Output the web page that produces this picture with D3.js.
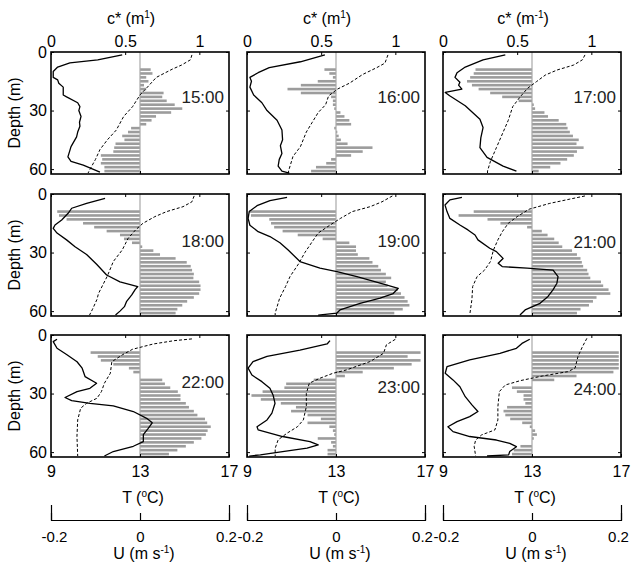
<!DOCTYPE html>
<html><head><meta charset="utf-8">
<script src="https://cdn.jsdelivr.net/npm/d3@7"></script>
<style>
body{margin:0;background:#fff}
svg{display:block;font-family:"Liberation Sans",Arial,Helvetica,sans-serif}
</style>
</head><body>
<svg id="chart" width="632" height="562"></svg>
<script>
// ---------- data ----------
const times = ["15:00","16:00","17:00","18:00","19:00","21:00","22:00","23:00","24:00"];
const depthTicks = [0, 30, 60];
const cTicks = [0, 0.5, 1];
const tTicks = [9, 13, 17];
const uTicks = [-0.2, 0, 0.2];
const depthBins = [1,3,5,7,9,11,13,15,17,19,21,23,25,27,29,31,33,35,37,39,41,43,45,47,49,51,53,55,57,59,61];

// temperature profiles [depth m, T degC]
const temp1500 = [[1.5,12.2],[4,11.1],[5.6,9.85],[7.7,9.3],[10,9.1],[13,9.1],[14.3,9.3],[16,9.35],[18,9.55],[22,9.55],[23,9.7],[26,10.2],[28,10.3],[30,10.25],[33,10.35],[36,10.28],[38,10.3],[41,10.2],[43.5,10.15],[48.5,9.9],[53.7,9.76],[56,9.9],[58,10.45],[61.5,11.2]];
const temp1600 = [[1.5,12.5],[5,11.4],[8,10.0],[10.6,9.5],[13,9.13],[15,9.2],[18,9.13],[22,9.3],[26,9.67],[30,9.9],[35,10.35],[40,10.57],[45,10.6],[48,10.5],[52,10.57],[55,10.45],[58.5,10.4],[61,10.57],[62,10.9]];
const temp1700 = [[1.5,11.8],[4,10.8],[7.7,10.0],[10.6,9.63],[13,9.54],[15.5,9.76],[17,9.7],[19,9.85],[20.7,9.1],[22.4,9.3],[27.5,10.0],[34.5,10.66],[38.7,10.8],[44,10.7],[49,10.66],[54,10.98],[58.5,11.7],[61,12.3]];
const temp1800 = [[2.2,11.43],[4.8,10.6],[7.3,9.93],[9.9,9.77],[13.3,9.48],[15.9,9.18],[17.6,9.1],[20,9.27],[23.5,9.7],[27,10.08],[31,10.6],[36,11.05],[41.5,11.5],[45,12.1],[47.4,12.9],[49,12.78],[51.7,12.63],[55,12.4],[57.7,12.3],[60,12.1],[62,11.9]];
const temp1900 = [[1.7,10.8],[3.4,10.03],[6,9.45],[9,9.1],[12.5,9.05],[16,9.13],[19.3,9.5],[21.8,10.03],[25,10.48],[28.7,10.85],[34.6,11.38],[38,12.28],[39.8,13.04],[42.3,13.94],[45.7,14.98],[48.3,15.8],[51,15.57],[53.4,14.98],[56,14.08],[59.4,13.18],[61,13.04],[62,12.2]];
const temp2100 = [[1.7,9.85],[3,9.31],[5.6,9.09],[9,9.18],[12.5,9.31],[15.9,9.76],[18.4,10.12],[21,10.44],[23.5,10.57],[27.8,11.1],[29.5,11.4],[33,11.7],[35.5,11.48],[37.2,11.66],[38,12.78],[39,13.95],[42.3,14.17],[45.7,14.12],[49,13.95],[52.5,13.72],[56,13.36],[59.4,12.69],[62,12.46]];
const temp2200 = [[2.2,9.27],[3.4,9.1],[6.8,9.27],[10,9.7],[13.7,10.17],[17,10.4],[21.3,10.53],[24.7,11.05],[27.3,10.75],[29,10.17],[32,9.63],[33.6,9.93],[35,10.75],[36.3,11.8],[39.2,12.7],[42.7,13.3],[45,13.55],[47.8,13.37],[51,13.15],[54.6,13.15],[57,12.7],[59.7,11.8],[62,11.4]];
const temp2300 = [[2.9,12.73],[4.6,12.6],[7.7,11.38],[11,9.9],[13.6,9.27],[17,9.05],[20.5,9.22],[23.9,9.67],[27.3,10.03],[30.7,10.17],[35,10.26],[40,10.12],[43.5,9.9],[47,9.45],[48.6,9.5],[52,10.6],[54.6,11.83],[56.3,12.2],[58,11.7],[59.7,10.6],[61.4,9.6],[62,9.1]];
const temp2400 = [[2.2,12.9],[4.3,12.55],[6.8,12.3],[9.4,11.56],[12.8,10.2],[16.2,9.18],[19.6,9.1],[23,9.45],[26.5,9.76],[31.6,10.0],[35.8,10.3],[39.2,10.57],[41.8,10.2],[44.4,9.63],[47,9.22],[49.5,9.45],[52,10.2],[53.8,11.4],[55.5,12.0],[57.2,12.3],[59.7,12.0],[61.4,11.95],[62,10.98]];

// c* profiles [depth m, c* 1/m]
const c1500 = [[1.5,0.95],[4,0.94],[6.7,0.88],[8.7,0.82],[13,0.71],[18,0.65],[22,0.60],[28,0.55],[33,0.49],[40,0.44],[45,0.38],[50,0.33],[55,0.30],[60.5,0.26],[62,0.25]];
const c1600 = [[1.5,0.95],[5.7,0.93],[8,0.875],[11.5,0.78],[16,0.69],[19,0.61],[22.5,0.55],[27,0.53],[31,0.48],[36,0.44],[41,0.40],[48.5,0.36],[53.5,0.31],[61,0.28],[62,0.28]];
const c1700 = [[1.5,0.957],[4,0.94],[6.7,0.88],[9.2,0.77],[11.8,0.69],[15.2,0.63],[18.6,0.57],[23,0.52],[28,0.47],[35,0.44],[42,0.40],[49,0.36],[56,0.32],[61,0.30],[62,0.30]];
const c1800 = [[1,0.965],[4,0.95],[6.5,0.89],[9,0.78],[11.6,0.70],[15,0.62],[18.4,0.57],[22.7,0.52],[28.7,0.48],[34.6,0.42],[42,0.38],[51,0.32],[54,0.31],[59,0.28],[62,0.26]];
const c1900 = [[1,0.98],[4,0.91],[6.5,0.83],[9,0.71],[12.5,0.63],[15.9,0.56],[20,0.48],[24.4,0.44],[30,0.39],[35.5,0.35],[42.3,0.29],[47.4,0.26],[53.4,0.22],[61,0.19],[62,0.19]];
const c2100 = [[1,0.957],[2.7,0.85],[4.8,0.72],[7.8,0.58],[11.6,0.50],[15,0.44],[19.3,0.40],[23.5,0.37],[28.7,0.34],[34.6,0.32],[39,0.28],[42.3,0.23],[47.4,0.20],[54,0.195],[62,0.18]];
const c2200 = [[2,0.95],[2.9,0.83],[4.6,0.69],[7.3,0.55],[10.2,0.48],[13.7,0.41],[19.6,0.40],[24.7,0.36],[29,0.34],[32.4,0.31],[35,0.24],[37.5,0.20],[43.5,0.18],[52,0.175],[62,0.18]];
const c2300 = [[2.2,1.0],[5,0.94],[9.4,0.92],[13.6,0.83],[17.9,0.67],[19.6,0.58],[22.2,0.49],[24.7,0.42],[30,0.40],[36.7,0.40],[43.5,0.38],[47,0.34],[50.3,0.27],[53.7,0.21],[58,0.19],[62,0.19]];
const c2400 = [[1.7,0.97],[6,0.94],[11,0.91],[17,0.89],[18.8,0.84],[21,0.67],[23.4,0.52],[25.6,0.42],[29,0.38],[36.7,0.37],[43.5,0.37],[48.6,0.35],[51.2,0.26],[53.8,0.22],[57,0.21],[62,0.22]];

// velocity U (m/s) per depth bin
const u1500 = [0,0,0,0,0.024,0.028,0.014,0.019,0.009,0.014,0.053,0.05,0.06,0.078,0.095,0.07,0.036,0.026,0.014,-0.02,-0.027,-0.04,-0.035,-0.055,-0.058,-0.06,-0.088,-0.085,-0.088,-0.08,-0.08];
const u1600 = [0,0,0,0,-0.026,-0.015,-0.007,-0.041,-0.079,-0.109,-0.079,-0.011,-0.007,-0.007,-0.004,0.01,0.019,0.03,0.034,-0.004,0.003,0.006,0.011,0.026,0.082,0.06,0.034,-0.011,-0.022,-0.045,-0.056];
const u1700 = [0,0,0,0,-0.127,-0.131,-0.139,-0.146,-0.135,-0.12,-0.094,-0.067,-0.03,0.004,0.007,0.028,0.036,0.06,0.077,0.08,0.085,0.092,0.105,0.1,0.116,0.101,0.094,0.079,0.064,0.041,0.015];
const u1800 = [0,0,0,0,-0.186,-0.182,-0.165,-0.128,-0.103,-0.075,-0.045,-0.036,-0.018,0.005,0.03,0.045,0.08,0.105,0.114,0.117,0.121,0.12,0.133,0.136,0.136,0.133,0.121,0.106,0.095,0.084,0.08];
const u1900 = [0,0,0,0,-0.195,-0.191,-0.15,-0.146,-0.139,-0.12,-0.086,-0.03,0.03,0.045,0.045,0.049,0.075,0.082,0.095,0.101,0.112,0.124,0.112,0.116,0.139,0.146,0.154,0.161,0.165,0.15,0.131];
const u2100 = [0,0,0,0,-0.131,-0.165,-0.1,-0.071,-0.011,0.022,0.035,0.05,0.06,0.068,0.09,0.101,0.109,0.112,0.115,0.124,0.127,0.131,0.155,0.16,0.172,0.176,0.145,0.137,0.128,0.109,0.101];
const u2200 = [0,0,0,0,-0.111,-0.095,-0.088,-0.06,-0.025,-0.015,0,0.05,0.056,0.068,0.085,0.091,0.091,0.103,0.11,0.121,0.129,0.146,0.151,0.159,0.152,0.148,0.138,0.121,0.103,0.084,0.065];
const u2300 = [0,0,0,0,0.19,0.161,0.19,0.17,0.13,0.06,0.02,-0.05,-0.112,-0.116,-0.165,-0.19,-0.169,-0.124,-0.09,-0.101,-0.064,-0.034,-0.064,-0.015,-0.007,-0.004,-0.041,-0.011,-0.007,-0.019,-0.019];
const u2400 = [0,0,0,0,0.195,0.195,0.195,0.195,0.195,0.183,0.1,0.05,0,-0.045,-0.034,-0.019,-0.019,-0.015,-0.056,-0.064,-0.06,-0.049,-0.022,-0.005,0.007,0.011,0.004,0,-0.026,-0.041,-0.045];

const tempProfiles = [temp1500,temp1600,temp1700,temp1800,temp1900,temp2100,temp2200,temp2300,temp2400];
const cProfiles = [c1500,c1600,c1700,c1800,c1900,c2100,c2200,c2300,c2400];
const uProfiles = [u1500,u1600,u1700,u1800,u1900,u2100,u2200,u2300,u2400];

// ---------- layout ----------
const colX = [51, 247, 443];
const rowY = [52, 194, 335];
const W = 178, H = 122;
const labelDy = [51,51,51,53,53,54,53,58,60];
const FS = 16;

const svg = d3.select("#chart");

const xT = d3.scaleLinear().domain([9, 17]).range([0, W]);
const xC = d3.scaleLinear().domain([0, 1.2]).range([0, W]);
const xU = d3.scaleLinear().domain([-0.2, 0.2]).range([0, W]);
const yD = d3.scaleLinear().domain([0, 62.5]).range([0, H]);

function styleAxis(g){
  g.attr("font-size", FS).attr("font-family", null);
  g.select(".domain").remove();
  g.selectAll(".tick line").attr("stroke", "#000");
  g.selectAll(".tick text").attr("fill", "#000");
}

times.forEach((t, i) => {
  const col = i % 3, row = Math.floor(i / 3);
  const g = svg.append("g").attr("transform", `translate(${colX[col]},${rowY[row]})`);
  const cid = "clip" + i;
  g.append("clipPath").attr("id", cid).append("rect").attr("width", W).attr("height", H);
  const plot = g.append("g").attr("clip-path", `url(#${cid})`);

  // velocity bars
  const bh = 2.6;
  plot.selectAll("rect.bar").data(depthBins.map((d, k) => ({d, u: uProfiles[i][k]})).filter(o => o.u !== 0))
    .enter().append("rect").attr("class", "bar")
    .attr("x", o => Math.min(xU(0), xU(o.u)))
    .attr("width", o => Math.abs(xU(o.u) - xU(0)))
    .attr("y", o => yD(o.d) - bh / 2)
    .attr("height", bh)
    .attr("fill", "#9c9c9c");

  // centre line (U = 0)
  plot.append("line").attr("x1", xU(0)).attr("x2", xU(0)).attr("y1", 0).attr("y2", H)
    .attr("stroke", "#a8a8a8").attr("stroke-width", 1.2);

  // c* dashed
  plot.append("path").datum(cProfiles[i])
    .attr("d", d3.line().x(d => xC(d[1])).y(d => yD(d[0])))
    .attr("fill", "none").attr("stroke", "#000").attr("stroke-width", 1)
    .attr("stroke-dasharray", "3,2");

  // temperature solid
  plot.append("path").datum(tempProfiles[i])
    .attr("d", d3.line().x(d => xT(d[1])).y(d => yD(d[0])))
    .attr("fill", "none").attr("stroke", "#000").attr("stroke-width", 1.3)
    .attr("stroke-linejoin", "round");

  // box
  g.append("rect").attr("width", W).attr("height", H)
    .attr("fill", "none").attr("stroke", "#000").attr("stroke-width", 1.6);

  // axes (inward ticks)
  g.append("g").call(d3.axisLeft(yD).tickValues(depthTicks).tickSize(-3).tickPadding(4)
      .tickFormat(col === 0 ? (d => String(d)) : () => "")).call(styleAxis);
  g.append("g").attr("transform", `translate(${W},0)`)
    .call(d3.axisRight(yD).tickValues(depthTicks).tickSize(-3).tickFormat(() => "")).call(styleAxis);
  g.append("g").call(d3.axisTop(xC).tickValues(cTicks).tickSize(-3).tickPadding(5)
      .tickFormat(row === 0 ? (d => String(d)) : () => "")).call(styleAxis);
  g.append("g").attr("transform", `translate(0,${H})`)
    .call(d3.axisBottom(xT).tickValues(tTicks).tickSize(-3).tickPadding(9)
      .tickFormat(row === 2 ? (d => String(d)) : () => "")).call(styleAxis);

  // time label
  g.append("text").attr("x", W - 5).attr("y", labelDy[i]).attr("text-anchor", "end")
    .attr("font-size", 17).attr("fill", "#222").text(t);

  // depth label
  if (col === 0) {
    svg.append("text").attr("transform", `translate(20,${rowY[row] + H / 2}) rotate(-90)`)
      .attr("text-anchor", "middle").attr("font-size", FS).text("Depth (m)");
  }

  // top titles
  if (row === 0) {
    const tt = svg.append("text").attr("x", colX[col] + 80).attr("y", 24)
      .attr("text-anchor", "middle").attr("font-size", FS);
    tt.append("tspan").text("c* (m");
    tt.append("tspan").attr("font-size", 10).attr("dy", -6).text(col === 2 ? "-1" : "1");
    tt.append("tspan").attr("dy", 6).text(")");
  }

  // bottom axes
  if (row === 2) {
    const tt = svg.append("text").attr("x", colX[col] + W / 2 + 3).attr("y", 503)
      .attr("text-anchor", "middle").attr("font-size", FS);
    tt.append("tspan").text("T (");
    tt.append("tspan").attr("font-size", 10).attr("dy", -6).text("o");
    tt.append("tspan").attr("dy", 6).text("C)");

    const ug = svg.append("g").attr("transform", `translate(${colX[col]},520)`);
    ug.append("g").call(d3.axisTop(xU).tickValues(uTicks).tickSizeInner(7).tickSizeOuter(15).tickFormat(() => ""))
      .call(a => { a.select(".domain").attr("stroke", "#000").attr("stroke-width", 1.2);
                   a.selectAll(".tick line").attr("stroke", "#000").attr("stroke-width", 1.2); });
    ug.append("g").call(d3.axisBottom(xU).tickValues(uTicks).tickSize(0).tickPadding(11).tickFormat(d => String(d)))
      .call(styleAxis)
      .call(a => a.selectAll(".tick text").attr("font-size", 15)
        .attr("dx", d => d < 0 ? 3 : (d > 0 ? -3 : 0)));

    const ut = svg.append("text").attr("x", colX[col] + W / 2 + 4).attr("y", 559)
      .attr("text-anchor", "middle").attr("font-size", FS);
    ut.append("tspan").text("U (m s");
    ut.append("tspan").attr("font-size", 10).attr("dy", -6).text("-1");
    ut.append("tspan").attr("dy", 6).text(")");
  }
});
</script>
</body></html>
